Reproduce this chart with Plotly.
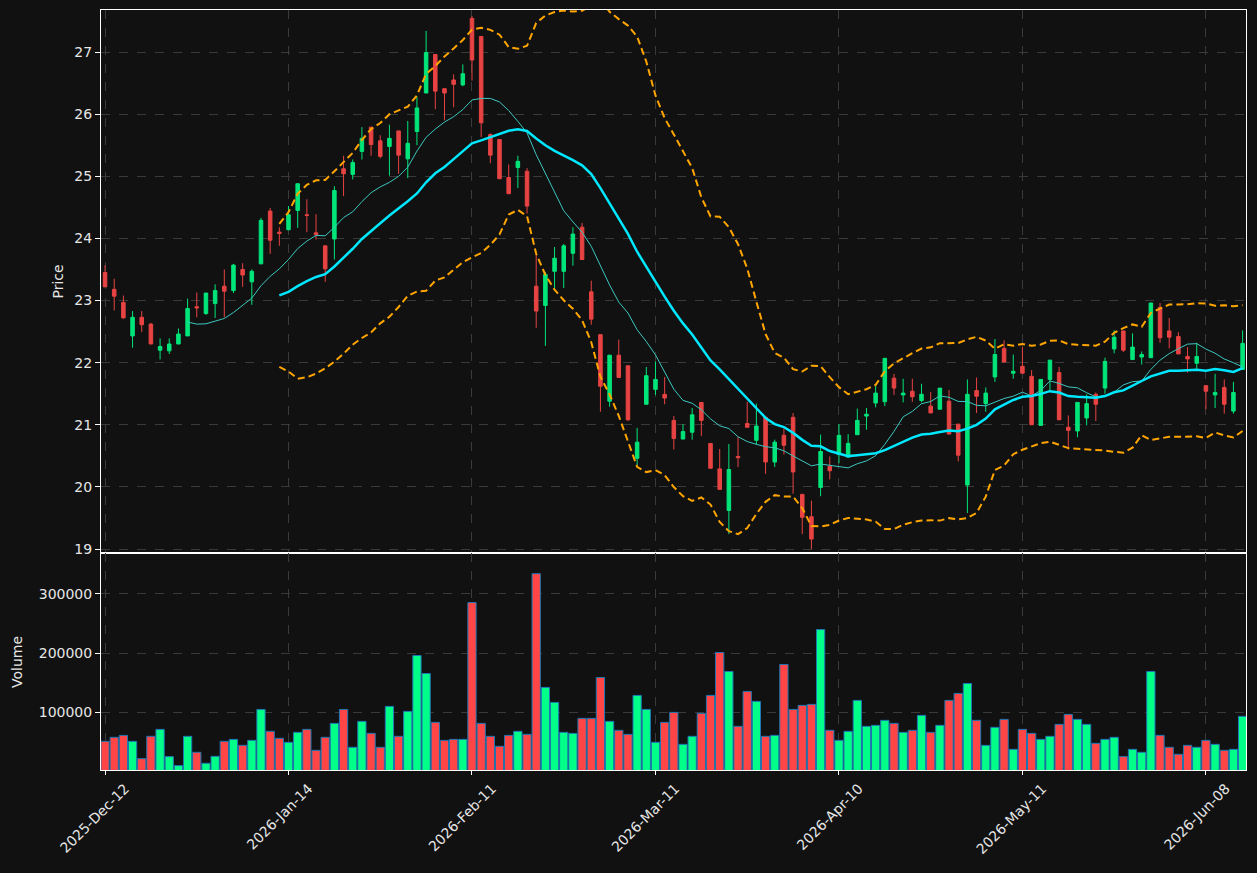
import pandas as pd
import plotly.graph_objects as go

OPEN = [23.45, 23.18, 22.97, 22.43, 22.73, 22.62, 22.20, 22.19, 22.30, 22.43,
        22.90, 22.79, 22.95, 23.23, 23.16, 23.50, 23.30, 23.59, 24.44, 24.10,
        24.14, 24.45, 24.38, 24.09, 23.88, 23.99, 25.12, 25.03, 25.40, 25.79,
        25.57, 25.48, 25.73, 25.28, 25.72, 26.34, 26.96, 26.41, 26.55, 26.47,
        27.54, 27.25, 25.67, 25.59, 24.98, 25.14, 25.08, 23.23, 22.92, 23.47,
        23.47, 23.76, 24.18, 23.14, 22.45, 21.38, 22.12, 21.95, 20.46, 21.33,
        21.57, 21.49, 21.07, 20.77, 20.88, 21.36, 20.70, 20.29, 19.62, 20.49,
        21.02, 20.75, 21.12, 20.40, 20.83, 21.12, 19.88, 19.52, 19.99, 20.33,
        20.52, 20.48, 20.84, 21.14, 21.35, 21.37, 21.75, 21.48, 21.54, 21.39,
        21.30, 21.25, 21.38, 21.01, 20.03, 21.55, 21.34, 21.77, 22.23, 21.83,
        21.94, 21.78, 20.99, 21.73, 21.84, 20.96, 20.90, 21.11, 21.49, 21.59,
        22.22, 22.51, 22.05, 22.09, 22.08, 22.89, 22.51, 22.42, 22.10, 21.99,
        21.63, 21.48, 21.60, 21.22, 21.89]
HIGH = [23.57, 23.35, 23.08, 22.83, 22.83, 22.64, 22.39, 22.39, 22.55, 23.03,
        23.13, 23.12, 23.26, 23.50, 23.59, 23.60, 23.50, 24.33, 24.49, 24.18,
        24.52, 24.88, 24.63, 24.39, 23.88, 24.84, 25.33, 25.27, 25.79, 25.79,
        25.66, 25.83, 25.73, 25.89, 26.28, 27.34, 26.96, 26.41, 26.64, 26.80,
        27.58, 27.25, 25.69, 25.59, 25.19, 25.33, 25.13, 23.73, 23.46, 23.86,
        23.91, 24.18, 24.25, 23.32, 22.45, 22.12, 22.37, 21.95, 20.95, 21.93,
        22.02, 21.77, 21.14, 21.01, 21.27, 21.36, 20.70, 20.61, 20.69, 20.80,
        21.37, 21.34, 21.12, 20.76, 20.94, 21.19, 19.88, 19.78, 20.84, 20.49,
        21.01, 20.85, 21.26, 21.27, 21.63, 22.07, 21.82, 21.74, 21.74, 21.66,
        21.53, 21.59, 21.56, 21.01, 21.73, 21.76, 21.60, 22.38, 22.36, 22.13,
        22.26, 21.88, 21.73, 22.04, 21.93, 21.15, 21.36, 21.49, 21.52, 22.08,
        22.52, 22.51, 22.47, 22.18, 22.96, 22.96, 22.72, 22.49, 22.25, 22.32,
        21.63, 21.82, 21.73, 21.69, 22.52]
LOW = [23.22, 22.84, 22.71, 22.24, 22.49, 22.30, 22.05, 22.14, 22.30, 22.43,
       22.73, 22.77, 22.72, 22.73, 23.12, 23.22, 22.93, 23.59, 23.75, 23.88,
       24.13, 24.17, 24.10, 23.98, 23.30, 23.66, 24.68, 24.95, 25.27, 25.33,
       25.29, 25.01, 25.04, 24.97, 25.50, 26.34, 26.08, 25.90, 26.11, 26.45,
       26.54, 25.63, 25.21, 24.96, 24.71, 24.81, 24.40, 22.56, 22.27, 23.20,
       23.20, 23.56, 23.66, 22.61, 21.21, 21.29, 21.76, 21.06, 20.35, 21.33,
       21.48, 21.33, 20.60, 20.77, 20.76, 20.82, 20.30, 19.96, 19.24, 20.32,
       20.96, 20.68, 20.21, 20.32, 20.52, 19.89, 19.24, 19.00, 19.85, 20.12,
       20.38, 20.48, 20.84, 20.92, 21.28, 21.30, 21.48, 21.36, 21.37, 21.36,
       21.19, 21.25, 20.85, 20.41, 19.58, 21.19, 21.21, 21.69, 22.01, 21.74,
       21.83, 21.00, 20.99, 21.55, 21.08, 20.60, 20.80, 20.99, 21.06, 21.50,
       22.15, 22.17, 22.04, 21.97, 22.08, 22.32, 22.23, 22.14, 21.84, 21.90,
       21.25, 21.27, 21.18, 21.18, 21.89]
CLOSE = [23.22, 23.07, 22.72, 22.73, 22.61, 22.30, 22.26, 22.30, 22.46, 22.87,
         22.88, 23.12, 23.16, 23.15, 23.57, 23.41, 23.47, 24.29, 23.97, 24.08,
         24.38, 24.88, 24.37, 24.06, 23.51, 24.77, 25.04, 25.22, 25.61, 25.51,
         25.32, 25.61, 25.34, 25.53, 26.10, 26.99, 26.37, 26.34, 26.48, 26.65,
         26.87, 25.86, 25.34, 24.96, 24.72, 25.24, 24.52, 22.83, 23.42, 23.68,
         23.88, 24.07, 23.66, 22.70, 21.62, 22.12, 21.76, 21.08, 20.72, 21.79,
         21.73, 21.43, 20.78, 20.89, 21.16, 21.07, 20.30, 19.96, 20.28, 20.47,
         20.96, 20.98, 20.40, 20.72, 20.67, 20.24, 19.51, 19.16, 20.57, 20.26,
         20.83, 20.70, 21.07, 21.17, 21.51, 22.07, 21.59, 21.51, 21.45, 21.49,
         21.19, 21.59, 20.85, 20.51, 21.49, 21.46, 21.51, 22.13, 22.01, 21.86,
         21.83, 21.00, 21.73, 22.04, 21.08, 20.91, 21.36, 21.34, 21.33, 22.02,
         22.41, 22.20, 22.25, 22.13, 22.96, 22.40, 22.41, 22.14, 22.06, 22.10,
         21.54, 21.52, 21.33, 21.52, 22.31]
VOLUME = [51300, 58000, 61300, 51300, 22100, 59700, 71400, 25500, 10400, 59700,
          32800, 14300, 26000, 51300, 54600, 44500, 52900, 105000, 68100, 56300,
          49600, 66400, 71400, 36100, 58000, 81500, 105000, 41200, 84900, 64700,
          41200, 110100, 59700, 101700, 195800, 165500, 83200, 52900, 54600, 54600,
          284900, 81500, 59700, 42900, 61300, 68100, 63000, 333600, 142000, 116800,
          66400, 64700, 89900, 89900, 158800, 84900, 69800, 63000, 128600, 105000,
          49600, 83200, 100000, 46200, 59700, 98300, 128600, 200800, 168900, 76500,
          135300, 118500, 59700, 61300, 180700, 105000, 111800, 113500, 239500, 69800,
          52900, 68100, 120200, 76500, 78200, 86600, 81500, 66400, 69800, 95000,
          66400, 78200, 120200, 131900, 148700, 86600, 44500, 74800, 88200, 37800,
          71400, 64700, 54600, 59700, 79800, 96600, 88200, 79800, 47900, 54600,
          58000, 25500, 37800, 32800, 168900, 61300, 41200, 29400, 44500, 41200,
          52900, 46200, 36100, 37800, 93300]
TICK_POS = [0, 20, 40, 60, 80, 100, 120]
TICK_LABELS = ["2025-Dec-12", "2026-Jan-14", "2026-Feb-11", "2026-Mar-11",
               "2026-Apr-10", "2026-May-11", "2026-Jun-08"]
PRICE_TICKS = [19, 20, 21, 22, 23, 24, 25, 26, 27]
VOL_TICKS = [100000, 200000, 300000]

BG = "#111111"
FG = "#e6e6e6"
GRID = "#3a3a3a"
UP_C, DN_C = "#00e57a", "#e84343"
UP_V, DN_V = "#00ff88", "#ff4545"

x = list(range(len(CLOSE)))
close = pd.Series(CLOSE)
ma10 = close.rolling(10).mean()
ma20 = close.rolling(20).mean()
sd20 = close.rolling(20).std(ddof=0)
upper = ma20 + 2 * sd20
lower = ma20 - 2 * sd20

fig = go.Figure()
fig.add_trace(go.Candlestick(
    x=x, open=OPEN, high=HIGH, low=LOW, close=CLOSE,
    increasing=dict(line=dict(color=UP_C, width=1), fillcolor=UP_C),
    decreasing=dict(line=dict(color=DN_C, width=1), fillcolor=DN_C),
    whiskerwidth=0, xaxis="x", yaxis="y", showlegend=False))
fig.add_trace(go.Scatter(x=x, y=ma10, mode="lines", line=dict(color="#3cc8c0", width=1),
                         xaxis="x", yaxis="y", showlegend=False))
fig.add_trace(go.Scatter(x=x, y=ma20, mode="lines", line=dict(color="#00e8ff", width=2.5),
                         xaxis="x", yaxis="y", showlegend=False))
for band in (upper, lower):
    fig.add_trace(go.Scatter(x=x, y=band, mode="lines",
                             line=dict(color="#ffa500", width=2, dash="7px,4px"),
                             xaxis="x", yaxis="y", showlegend=False))

vcolors = [UP_V if c >= o else DN_V for o, c in zip(OPEN, CLOSE)]
fig.add_trace(go.Bar(x=x, y=VOLUME, width=0.9, marker=dict(color=vcolors,
                     line=dict(color="#1f77b4", width=1)),
                     xaxis="x2", yaxis="y2", showlegend=False))

split = (770 - 553) / 760
xr = [-0.44, 124.37]
common_x = dict(range=xr, showgrid=True, gridcolor=GRID, griddash="dash", gridwidth=1,
                showline=True, linecolor="white", linewidth=1, mirror=True,
                zeroline=False, tickvals=TICK_POS)
fig.update_layout(
    width=1257, height=873,
    paper_bgcolor=BG, plot_bgcolor=BG,
    margin=dict(l=101, r=11, t=10, b=103),
    font=dict(family="DejaVu Sans", size=14, color=FG),
    boxgap=0.45,
    xaxis=dict(**common_x, anchor="y", domain=[0, 1], showticklabels=False,
               ticks="", rangeslider=dict(visible=False)),
    xaxis2=dict(**common_x, anchor="y2", domain=[0, 1], matches="x",
                ticktext=TICK_LABELS, tickangle=-45, ticks="outside", ticklen=4,
                tickcolor="white", ticklabelshift=20),
    yaxis=dict(domain=[split, 1], range=[18.936, 27.676], tickvals=PRICE_TICKS,
               showgrid=True, gridcolor=GRID, griddash="dash", zeroline=False,
               showline=True, linecolor="white", mirror=True, ticks="outside",
               ticklen=5, tickcolor="white"),
    yaxis2=dict(domain=[0, split], range=[3000, 368400], tickvals=VOL_TICKS,
                ticktext=[str(v) for v in VOL_TICKS],
                showgrid=True, gridcolor=GRID, griddash="dash", zeroline=False,
                showline=True, linecolor="white", mirror=True, ticks="outside",
                ticklen=5, tickcolor="white"),
    annotations=[
        dict(text="Price", x=(57 - 101) / 1145, y=(770 - 281.5) / 760, xref="paper",
             yref="paper", textangle=-90, showarrow=False, font=dict(size=14, color=FG),
             xanchor="center", yanchor="middle"),
        dict(text="Volume", x=(17 - 101) / 1145, y=(770 - 662) / 760, xref="paper",
             yref="paper", textangle=-90, showarrow=False, font=dict(size=14, color=FG),
             xanchor="center", yanchor="middle"),
    ],
)
fig.write_html("out.html")
